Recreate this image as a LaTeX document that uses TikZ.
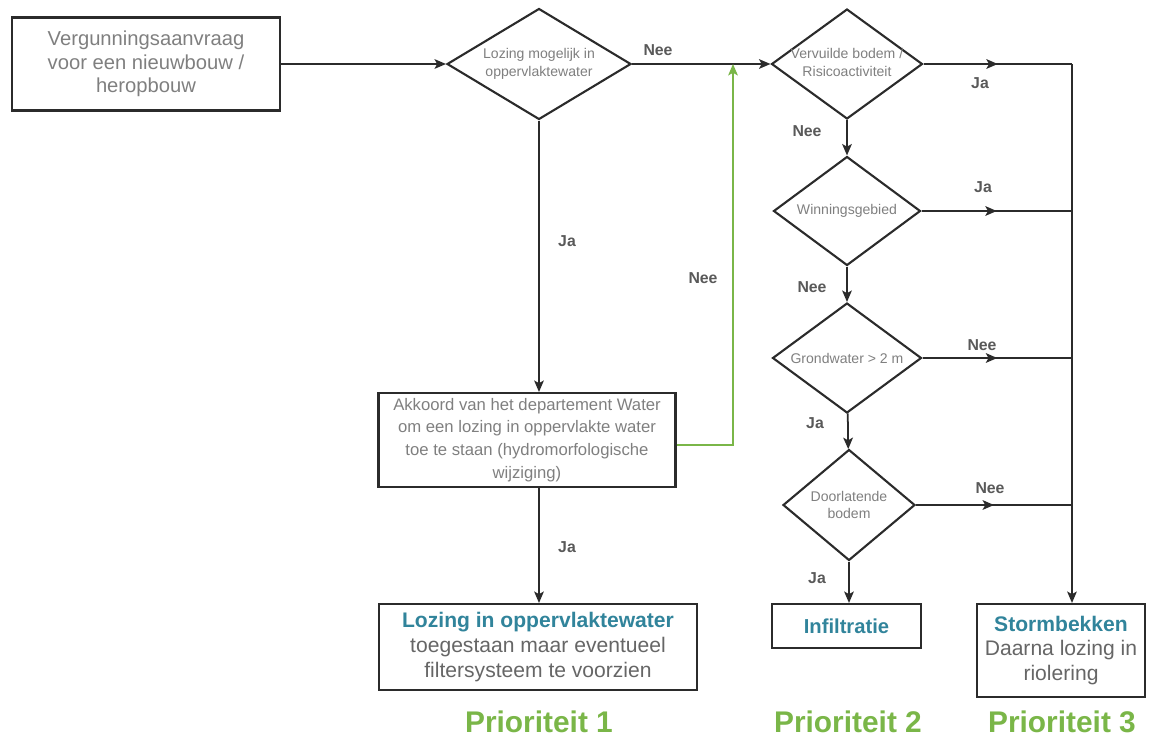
\documentclass[tikz,border=0pt]{standalone}
\usepackage{fontspec}
\setmainfont{Liberation Sans}
\usetikzlibrary{arrows.meta,shapes,positioning,decorations.markings}
\definecolor{txtgray}{HTML}{7F7F7F}
\definecolor{bodygray}{HTML}{666666}
\definecolor{labelgray}{HTML}{595959}
\definecolor{linegray}{HTML}{2B2B2B}
\definecolor{titleblue}{HTML}{31849B}
\definecolor{prioGreen}{HTML}{7AB648}

\begin{document}
\begin{tikzpicture}[x=0.02cm,y=-0.02cm,>={Stealth[length=6.5pt,width=5.5pt,inset=1.5pt]},
        line/.style={draw=linegray,line width=1pt},
        box/.style={rectangle,draw=linegray,line width=1.2pt,align=center,inner sep=2pt},
        question/.style={diamond,draw=linegray,line width=1.2pt,align=center,inner sep=-8pt,
                         font=\fontsize{8}{10}\selectfont,text=txtgray},
        answer/.style={font=\bfseries\fontsize{9}{11}\selectfont,text=labelgray},
        mid arrow/.style={postaction={decorate},
                          decoration={markings,mark=at position 0.5 with {\arrow{>}}}},
        prio/.style={font=\bfseries\fontsize{17}{20}\selectfont,text=prioGreen}]

\useasboundingbox (0,0) rectangle (1157,738);

% boxes and questions
\node (start) [box,minimum width=5.36cm,minimum height=1.86cm,text=txtgray,
               font=\fontsize{11.5}{13.5}\selectfont] at (146,64)
    {Vergunningsaanvraag\\voor een nieuwbouw /\\heropbouw};
\node (d1) [question,minimum width=3.68cm,minimum height=2.22cm] at (539,64)
    {Lozing mogelijk in\\oppervlaktewater};
\node (d2) [question,minimum width=3.02cm,minimum height=2.2cm] at (847,64)
    {\\[-6pt]Vervuilde bodem /\\Risicoactiviteit};
\node (d3) [question,minimum width=2.94cm,minimum height=2.18cm] at (847,211)
    {Winningsgebied};
\node (d4) [question,minimum width=2.98cm,minimum height=2.2cm] at (847,358)
    {Grondwater > 2 m};
\node (d5) [question,minimum width=2.64cm,minimum height=2.22cm] at (849,505)
    {Doorlatende\\bodem};
\node (akkoord) [box,minimum width=5.94cm,minimum height=1.88cm,text=txtgray,
                 font=\fontsize{9.5}{13}\selectfont] at (527,440)
    {Akkoord van het departement Water\\om een lozing in oppervlakte water\\toe te staan (hydromorfologische\\wijziging)};

% outcomes
\node (lozing) [box,minimum width=6.36cm,minimum height=1.72cm,text=bodygray,
                font=\fontsize{12}{14}\selectfont] at (538,647)
    {{\color{titleblue}\bfseries Lozing in oppervlaktewater}\\toegestaan maar eventueel\\filtersysteem te voorzien};
\node (infil) [box,minimum width=2.98cm,minimum height=0.88cm,text=titleblue,
               font=\bfseries\fontsize{11.5}{14}\selectfont] at (846.5,626) {Infiltratie};
\node (storm) [box,minimum width=3.36cm,minimum height=1.86cm,text=bodygray,
               font=\fontsize{12}{14}\selectfont] at (1061,650.5)
    {{\color{titleblue}\bfseries Stormbekken}\\Daarna lozing in\\riolering};

\node (prio1) [prio] at (539,722) {Prioriteit 1};
\node (prio2) [prio] at (848,722) {Prioriteit 2};
\node (prio3) [prio] at (1062,722) {Prioriteit 3};

\coordinate (merge) at (733,64);
\coordinate (bus) at (1072,64);

% connectors
\draw[line,->] (start.east) -- (d1.west);
\draw[line,->] (d1.east) -- (d2.west);
\draw[line,->] (d1.south) -- (d1.south |- akkoord.north);
\draw[line,->] (d1.south |- akkoord.south) -- (d1.south |- lozing.north);
\draw[line,draw=prioGreen,->] ([yshift=-3pt]akkoord.east) -| (merge);
\draw[line,->] (d2) -- (d3);
\draw[line,->] (d3) -- (d4);
\draw[line,->] (d4) -- (d5);
\draw[line,->] (d5.south) -- (d5.south |- infil.north);
\draw[line,mid arrow] (d2.east) -- (d2.east -| bus);
\draw[line,mid arrow] (d3.east) -- (d3.east -| bus);
\draw[line,mid arrow] (d4.east) -- (d4.east -| bus);
\draw[line,mid arrow] (d5.east) -- (d5.east -| bus);
\draw[line,->] (bus) -- (bus |- storm.north);

% answers
\node (a1) [answer] at (658,50) {Nee};
\node (a2) [answer] at (567,241) {Ja};
\node (a3) [answer] at (703,278) {Nee};
\node (a4) [answer] at (567,547) {Ja};
\node (a5) [answer] at (980,83) {Ja};
\node (a6) [answer] at (807,131) {Nee};
\node (a7) [answer] at (983,187) {Ja};
\node (a8) [answer] at (812,287) {Nee};
\node (a9) [answer] at (982,345) {Nee};
\node (a10) [answer] at (815,423) {Ja};
\node (a11) [answer] at (990,488) {Nee};
\node (a12) [answer] at (817,578) {Ja};

\end{tikzpicture}
\end{document}
